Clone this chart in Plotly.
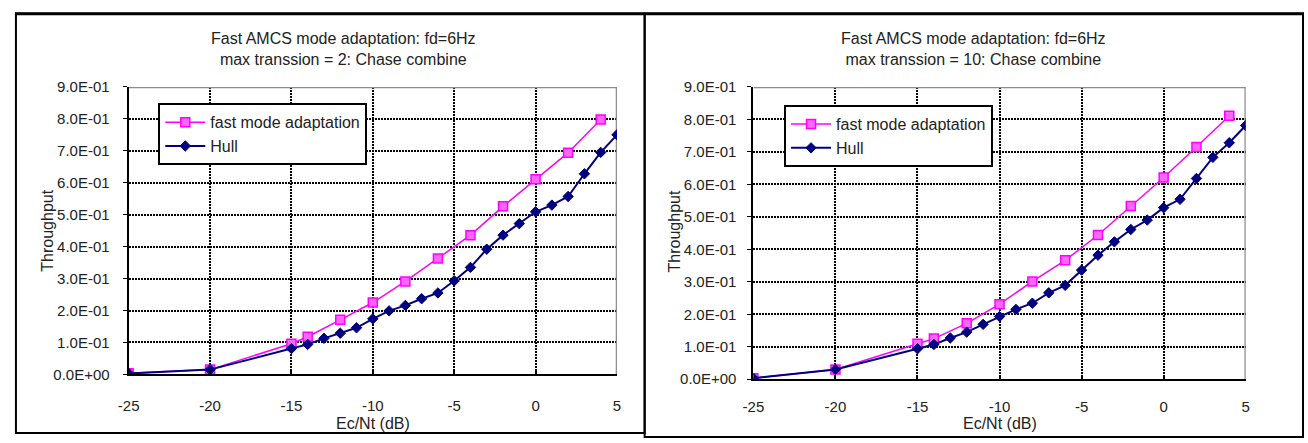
import plotly.graph_objects as go

W, H = 1308, 443

x_fast = [-25, -20, -15, -14, -12, -10, -8, -6, -4, -2, 0, 2, 4]
x_hull = [-25, -20, -15, -14, -13, -12, -11, -10, -9, -8, -7, -6, -5, -4,
          -3, -2, -1, 0, 1, 2, 3, 4, 5]

fast_left = [0.004, 0.015, 0.096, 0.118, 0.171, 0.225, 0.291, 0.363, 0.436,
             0.526, 0.611, 0.694, 0.798]
hull_left = [0.003, 0.015, 0.081, 0.094, 0.113, 0.129, 0.146, 0.174, 0.199,
             0.216, 0.237, 0.255, 0.293, 0.335, 0.392, 0.436, 0.472, 0.509,
             0.530, 0.557, 0.628, 0.695, 0.750]

fast_right = [0.003, 0.030, 0.109, 0.125, 0.172, 0.231, 0.301, 0.366, 0.444,
              0.533, 0.621, 0.715, 0.811]
hull_right = [0.003, 0.030, 0.094, 0.107, 0.127, 0.145, 0.169, 0.193, 0.215,
              0.234, 0.266, 0.289, 0.336, 0.382, 0.423, 0.461, 0.490, 0.528,
              0.554, 0.618, 0.683, 0.728, 0.781]

y_tickvals = [0, 0.1, 0.2, 0.3, 0.4, 0.5, 0.6, 0.7, 0.8, 0.9]
y_ticktext = ["0.0E+00", "1.0E-01", "2.0E-01", "3.0E-01", "4.0E-01",
              "5.0E-01", "6.0E-01", "7.0E-01", "8.0E-01", "9.0E-01"]
x_tickvals = [-25, -20, -15, -10, -5, 0, 5]
x_ticktext = ["-25", "-20", "-15", "-10", "-5", "0", "5"]

titles = ["Fast AMCS mode adaptation: fd=6Hz<br>max transsion = 2: Chase combine",
          "Fast AMCS mode adaptation: fd=6Hz<br>max transsion = 10: Chase combine"]
series_names = ["fast mode adaptation", "Hull"]

FONT = "Liberation Sans"
PINK = "#FF00FF"
NAVY = "#000080"
TXT = "#222222"

def px(x):
    return x / W

def py(y):
    return 1 - y / H

fig = go.Figure()

panels = [
    dict(fast=fast_left, hull=hull_left, xa="x", ya="y", legend="legend"),
    dict(fast=fast_right, hull=hull_right, xa="x2", ya="y2", legend="legend2"),
]
for p in panels:
    fig.add_trace(go.Scatter(
        x=x_fast, y=p["fast"], name=series_names[0], mode="lines+markers",
        xaxis=p["xa"], yaxis=p["ya"], legend=p["legend"],
        line=dict(color=PINK, width=1.5),
        marker=dict(symbol="square", size=9, color="#FF66FF",
                    line=dict(color=PINK, width=1.5)),
    ))
    fig.add_trace(go.Scatter(
        x=x_hull, y=p["hull"], name=series_names[1], mode="lines+markers",
        xaxis=p["xa"], yaxis=p["ya"], legend=p["legend"],
        line=dict(color=NAVY, width=2),
        marker=dict(symbol="diamond", size=8, color=NAVY,
                    line=dict(color=NAVY, width=1)),
    ))

plot_box = {
    "left": dict(x0=119, x1=613, y0=81, y1=380),
    "right": dict(x0=751, x1=1249, y0=81, y1=385),
}

def xaxis(box, anchor, standoff):
    return dict(
        domain=[px(box["x0"]), px(box["x1"])], anchor=anchor,
        range=[-25, 5], tickvals=x_tickvals, ticktext=x_ticktext,
        showgrid=True, gridcolor="black", gridwidth=1.5, griddash="2px,1px",
        showline=True, linecolor="black", linewidth=2,
        ticks="inside", ticklen=4, tickcolor="black", tickwidth=2,
        ticklabelstandoff=standoff,
        tickfont=dict(family=FONT, size=15, color=TXT),
        zeroline=False, fixedrange=True,
    )

def yaxis(box, anchor, standoff):
    return dict(
        domain=[py(box["y1"]), py(box["y0"])], anchor=anchor,
        range=[0, 0.9], tickvals=y_tickvals, ticktext=y_ticktext,
        showgrid=True, gridcolor="black", gridwidth=1.5, griddash="2px,1px",
        showline=True, linecolor="black", linewidth=2,
        ticks="outside", ticklen=4, tickcolor="black", tickwidth=1,
        ticklabelstandoff=standoff,
        tickfont=dict(family=FONT, size=15, color=TXT),
        zeroline=False, fixedrange=True,
    )

shapes = []
# plot-area gray borders (top and right)
for xr, yr in (("x", "y"), ("x2", "y2")):
    shapes.append(dict(type="line", xref=xr, yref=yr, x0=-25, x1=5, y0=0.9, y1=0.9,
                       line=dict(color="#8c8c8c", width=2.5), layer="between"))
    shapes.append(dict(type="line", xref=xr, yref=yr, x0=5, x1=5, y0=0, y1=0.9,
                       line=dict(color="#8c8c8c", width=2.5), layer="between"))

# panel frames
shapes.append(dict(type="rect", xref="paper", yref="paper",
                   x0=px(5), x1=px(641), y0=py(441), y1=py(5),
                   line=dict(color="black", width=2)))
shapes.append(dict(type="rect", xref="paper", yref="paper",
                   x0=px(641), x1=px(1307), y0=py(445), y1=py(5),
                   line=dict(color="black", width=2)))
shapes.append(dict(type="line", xref="paper", yref="paper",
                   x0=px(4), x1=px(1308), y0=py(5), y1=py(5),
                   line=dict(color="black", width=3)))

# legend placement (top-left corners) and estimated rendered box size
legend_pos = [dict(x=149, y=98), dict(x=782, y=100)]
LEG_W, LEG_H = 206, 58
for b in legend_pos:
    shapes.append(dict(type="rect", xref="paper", yref="paper",
                       x0=px(b["x"] + 5), x1=px(b["x"] + LEG_W + 5),
                       y0=py(b["y"] + LEG_H + 5), y1=py(b["y"] + 5),
                       fillcolor="black", line=dict(width=0), layer="above"))

annotations = []
title_centers = [336, 974]
ylab_x = [37, 671]
xlab_x = [366, 1000]
for i in range(2):
    annotations.append(dict(text=titles[i], xref="paper", yref="paper",
                            x=px(title_centers[i]), y=py(42), xanchor="center",
                            yanchor="middle", showarrow=False,
                            font=dict(family=FONT, size=16, color=TXT)))
    annotations.append(dict(text="Throughput", xref="paper", yref="paper",
                            x=px(ylab_x[i]), y=py(231), xanchor="center",
                            yanchor="middle", showarrow=False, textangle=-90,
                            font=dict(family=FONT, size=16, color=TXT)))
    annotations.append(dict(text="Ec/Nt (dB)", xref="paper", yref="paper",
                            x=px(xlab_x[i]), y=py(431), xanchor="center",
                            yanchor="middle", showarrow=False,
                            font=dict(family=FONT, size=16, color=TXT)))

def legend(b):
    return dict(x=px(b["x"]), y=py(b["y"]), xanchor="left", yanchor="top",
                bgcolor="white", bordercolor="black", borderwidth=2,
                font=dict(family=FONT, size=16, color=TXT),
                itemwidth=40, tracegroupgap=0)

fig.update_layout(
    width=W, height=H,
    margin=dict(l=0, r=0, t=0, b=0),
    paper_bgcolor="white", plot_bgcolor="white",
    showlegend=True,
    xaxis=xaxis(plot_box["left"], "y", 17),
    yaxis=yaxis(plot_box["left"], "x", 10),
    xaxis2=xaxis(plot_box["right"], "y2", 13),
    yaxis2=yaxis(plot_box["right"], "x2", 8),
    legend=legend(legend_pos[0]),
    legend2=legend(legend_pos[1]),
    shapes=shapes,
    annotations=annotations,
)

fig.write_html("out.html", config={"displayModeBar": False})
